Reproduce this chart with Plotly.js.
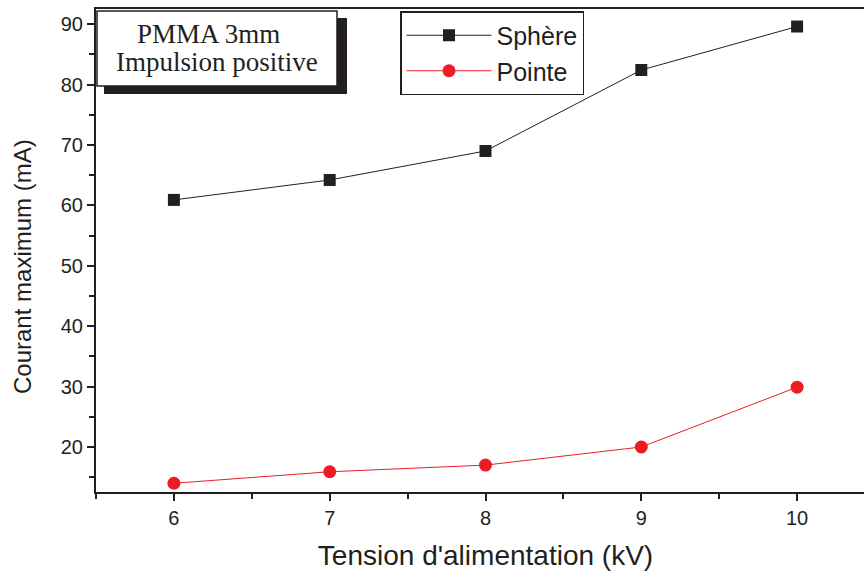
<!DOCTYPE html>
<html>
<head>
<meta charset="utf-8">
<script src="https://cdn.plot.ly/plotly-3.0.1.min.js"></script>
<style>
html,body{margin:0;padding:0;overflow:hidden;background:#fff;}
#chart{width:875px;height:571px;}
</style>
</head>
<body>
<div id="chart"></div>
<script>
const tension = [6, 7, 8, 9, 10];
const sphere = [60.9, 64.2, 69.0, 82.4, 89.6];
const pointe = [14.0, 15.9, 17.0, 20.0, 29.9];
const seriesNames = ["Sphère", "Pointe"];
const boxLines = ["PMMA 3mm", "Impulsion positive"];
const yTitle = "Courant maximum (mA)";
const xTitle = "Tension d'alimentation (kV)";

const axisColor = "#231f20";
const traces = [
  {x: tension, y: sphere, name: seriesNames[0], mode: "lines+markers",
   line: {color: "#231f20", width: 1},
   marker: {symbol: "square", size: 12, color: "#231f20"}},
  {x: tension, y: pointe, name: seriesNames[1], mode: "lines+markers",
   line: {color: "#ed1c24", width: 1},
   marker: {symbol: "circle", size: 13, color: "#ed1c24"}}
];

// plot area in pixels: left 96, top 9, width 779, height 483
const L = 96, T = 9, W = 779, H = 483;
const px = v => (v - L) / W;
const py = v => (T + H - v) / H;

const layout = {
  width: 875, height: 571,
  margin: {l: L, r: 0, t: T, b: 571 - T - H},
  paper_bgcolor: "#fff", plot_bgcolor: "#fff",
  showlegend: true,
  font: {family: "Liberation Sans, Arial, sans-serif", color: axisColor},
  xaxis: {
    range: [5.5, 10.5], tickvals: tension, ticktext: tension.map(String),
    showgrid: false, zeroline: false,
    showline: true, linecolor: axisColor, linewidth: 2, mirror: true,
    ticks: "outside", ticklen: 7, tickwidth: 2, tickcolor: axisColor,
    tickfont: {size: 20, color: axisColor},
    minor: {tickvals: [5.5, 6.5, 7.5, 8.5, 9.5], ticks: "outside", ticklen: 5, tickwidth: 2, tickcolor: axisColor},
    title: {text: xTitle, font: {size: 28, color: axisColor}, standoff: 18}
  },
  yaxis: {
    range: [12.55, 92.5], tickvals: [20, 30, 40, 50, 60, 70, 80, 90],
    showgrid: false, zeroline: false,
    showline: true, linecolor: axisColor, linewidth: 2, mirror: true,
    ticks: "outside", ticklen: 7, tickwidth: 2, tickcolor: axisColor,
    tickfont: {size: 20, color: axisColor},
    minor: {tickvals: [15, 25, 35, 45, 55, 65, 75, 85], ticks: "outside", ticklen: 5, tickwidth: 2, tickcolor: axisColor}
  },
  legend: {
    x: px(400), y: py(11), xanchor: "left", yanchor: "top",
    bgcolor: "#fff", bordercolor: axisColor, borderwidth: 1.5,
    font: {size: 25, color: axisColor}, tracegroupgap: 0,
    itemwidth: 85
  },
  shapes: [
    {type: "rect", xref: "paper", yref: "paper", x0: px(104), x1: px(347), y0: py(94), y1: py(18),
     fillcolor: "#231f20", line: {width: 0}},
    {type: "rect", xref: "paper", yref: "paper", x0: px(97), x1: px(337), y0: py(86), y1: py(11),
     fillcolor: "#fff", line: {color: axisColor, width: 1.5}}
  ],
  annotations: [
    {xref: "paper", yref: "paper", x: px(208), y: py(34), text: boxLines[0], showarrow: false,
     xanchor: "center", yanchor: "middle", font: {family: "Liberation Serif, Times New Roman, serif", size: 27, color: axisColor}},
    {xref: "paper", yref: "paper", x: px(217), y: py(62), text: boxLines[1], showarrow: false,
     xanchor: "center", yanchor: "middle", font: {family: "Liberation Serif, Times New Roman, serif", size: 27, color: axisColor}},
    {xref: "paper", yref: "paper", x: px(22), y: py(267), text: yTitle, showarrow: false, textangle: -90,
     xanchor: "center", yanchor: "middle", font: {size: 24, color: axisColor}}
  ]
};

Plotly.newPlot("chart", traces, layout, {displayModeBar: false, staticPlot: true});
</script>
</body>
</html>
